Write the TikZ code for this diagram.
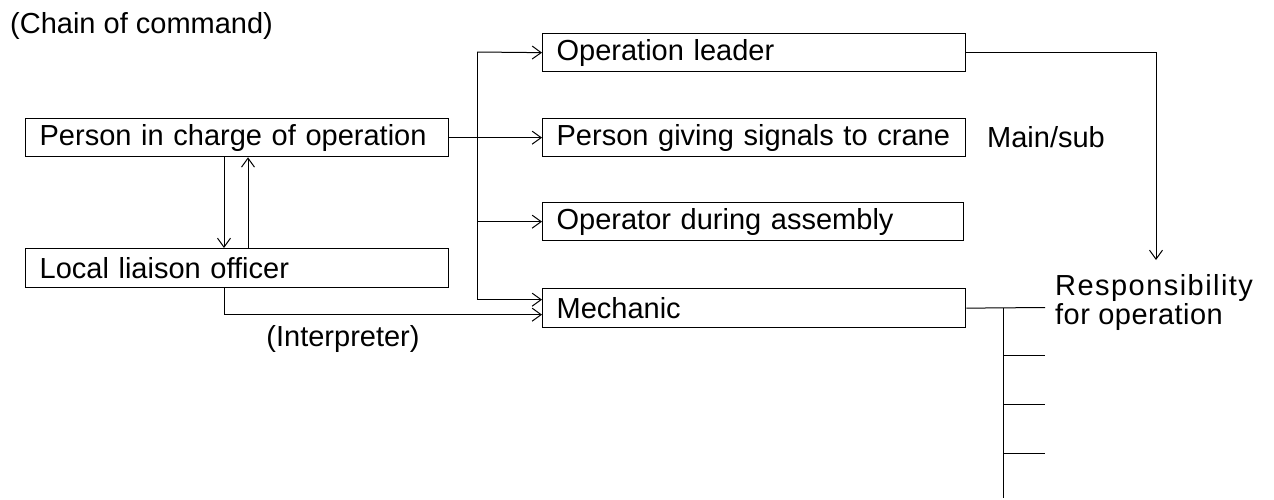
\documentclass[tikz,border=0pt]{standalone}
\usepackage{fontspec}
\setmainfont{Liberation Sans}
\usetikzlibrary{arrows.meta,calc}
\begin{document}
\begin{tikzpicture}[x=1pt,y=1pt, font=\fontsize{29pt}{34pt}\selectfont,
  box/.style={draw, line width=1.3pt, anchor=north west, inner xsep=14pt, inner ysep=0pt,
    align=left, minimum height=38pt, text width=395pt},
  arr/.style={line width=1pt, -{Straight Barb[length=9pt,width=13pt,line width=1pt]}},
  ln/.style={line width=1pt},
  lbl/.style={inner sep=0pt}]
\useasboundingbox (0,0) rectangle (1274,-499);

% title
\node[lbl, anchor=base west] (title) at (10,-33) {(Chain of command)};

% boxes
\node[box] (pic) at (25,-118) {Person in charge of operation};
\node[box, minimum height=39pt] (lia) at (25,-248) {Local liaison officer};
\node[box] (ol) at (542,-33) {Operation leader};
\node[box] (pg) at (542,-118) {Person giving signals to crane};
\node[box, text width=393pt] (od) at (542,-202) {Operator during assembly};
\node[box, minimum height=39pt] (me) at (542,-288) {Mechanic};

% labels
\node[lbl, anchor=base west] (ms) at (987,-147.5) {Main/sub};
\node[lbl, anchor=base] (interp) at (343,-346) {(Interpreter)};
\node[lbl, anchor=north west, align=left, font=\fontsize{29pt}{29pt}\selectfont] (resp) at (1055,-274)
  {\addfontfeatures{LetterSpace=5}Responsibility\\\addfontfeatures{LetterSpace=1.5}for operation};

% between person in charge and liaison
\draw[arr] ([xshift=199pt]pic.south west) -- ([xshift=199pt]lia.north west);
\draw[arr] ([xshift=223pt]lia.north west) -- ([xshift=223pt]pic.south west);
\coordinate (mlow) at ([yshift=-6.5pt]me.west);
\draw[arr] ([xshift=199pt]lia.south west) |- (mlow);

% trunk
\coordinate (tt) at (477,-52);
\coordinate (mtop) at ([yshift=8.5pt]me.west);
\draw[arr] (tt) |- (mtop);
\draw[arr] (tt) -- (ol.west);
\draw[arr] (tt |- od.west) -- (od.west);
\draw[arr] (pic.east) -- (pg.west);

% operation leader to responsibility
\coordinate (rtip) at (1156,-260);
\draw[arr] (ol.east) -| (rtip);

% mechanic branches
\coordinate (m1) at (1045,-307.5);
\coordinate (vb) at (1003,-498);
\draw[ln] (me.east) -- (m1);
\draw[ln] (me.east -| vb) -- (vb);
\foreach \yy [count=\i] in {355,404,453} {
  \coordinate (t\i a) at (1003,-\yy);
  \coordinate (t\i b) at (1045,-\yy);
  \draw[ln] (t\i a) -- (t\i b);
}
\end{tikzpicture}
\end{document}
